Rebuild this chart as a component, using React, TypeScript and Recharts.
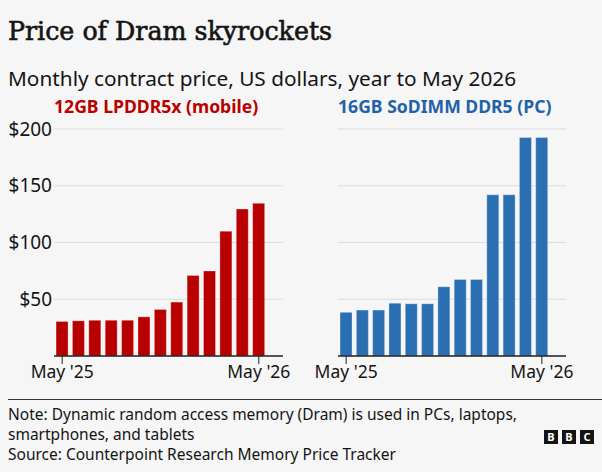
import React from "react";
import { BarChart, Bar, XAxis, YAxis, CartesianGrid } from "recharts";

const months = [
  "May '25", "Jun '25", "Jul '25", "Aug '25", "Sep '25", "Oct '25", "Nov '25",
  "Dec '25", "Jan '26", "Feb '26", "Mar '26", "Apr '26", "May '26",
];
const mobilePrice = [30.5, 31, 31.5, 31.5, 31.5, 34.5, 41, 47.5, 71, 75, 110, 129.5, 134.5];
const pcPrice = [38.5, 40.5, 40.5, 46.5, 46, 46, 61, 67.5, 67.5, 142, 142, 192.5, 192.5];
const yTicks = [0, 50, 100, 150, 200];

const mobileData = months.map((m, i) => ({ month: m, price: mobilePrice[i] }));
const pcData = months.map((m, i) => ({ month: m, price: pcPrice[i] }));

const SANS = "'Noto Sans', sans-serif";
const INK = "#141414";
const RED = "#b80000";
const BLUE = "#2b6fb3";

function Panel({ data, color, showY, margin }: { data: any[]; color: string; showY: boolean; margin: any }) {
  return (
    <BarChart width={showY ? 300 : 302} height={290} data={data} margin={margin} barCategoryGap="12.5%">
      <CartesianGrid vertical={false} stroke="#dcdcdc" />
      <XAxis
        dataKey="month"
        interval={11}
        padding={{ left: 0, right: 16 }}
        height={44}
        axisLine={{ stroke: "#222", strokeWidth: 1.5 }}
        tickLine={{ stroke: "#222" }}
        tickSize={8}
        tick={{ fill: INK, fontSize: 17.5, fontFamily: SANS }}
      />
      <YAxis
        hide={!showY}
        domain={[0, 200]}
        ticks={yTicks}
        width={54}
        axisLine={false}
        tickLine={false}
        tickSize={0}
        tickMargin={2}
        tickFormatter={(v: number) => (v === 0 ? "" : `$${v}`)}
        tick={{ fill: INK, fontSize: 19, fontFamily: SANS }}
      />
      <Bar dataKey="price" fill={color} stroke="#ffffff" strokeOpacity={0.3} strokeWidth={1} isAnimationActive={false} />
    </BarChart>
  );
}

export default function App() {
  return (
    <div style={{ position: "absolute", left: 0, top: 0, width: 602, height: 472, background: "#f6f6f6", fontFamily: SANS, color: INK, overflow: "hidden" }}>
      <div style={{ position: "absolute", left: 8, top: 16, fontFamily: "'DejaVu Serif', serif", fontSize: 25.3, lineHeight: "32px", fontWeight: 500, whiteSpace: "nowrap", WebkitTextStroke: "0.6px #141414" }}>
        Price of Dram skyrockets
      </div>
      <div style={{ position: "absolute", left: 8, top: 64, fontSize: 20.8, lineHeight: "28px", whiteSpace: "nowrap" }}>
        Monthly contract price, US dollars, year to May 2026
      </div>

      <div style={{ position: "absolute", left: 54, top: 94, fontSize: 17.6, lineHeight: "24px", fontWeight: 700, color: RED, whiteSpace: "nowrap" }}>
        12GB LPDDR5x (mobile)
      </div>
      <div style={{ position: "absolute", left: 338, top: 94, fontSize: 17.6, lineHeight: "24px", fontWeight: 700, color: "#1f62a8", whiteSpace: "nowrap" }}>
        16GB SoDIMM DDR5 (PC)
      </div>

      <div style={{ position: "absolute", left: 0, top: 110 }}>
        <Panel data={mobileData} color={RED} showY={true} margin={{ top: 19, right: 17, bottom: 0, left: 0 }} />
      </div>
      <div style={{ position: "absolute", left: 300, top: 110 }}>
        <Panel data={pcData} color={BLUE} showY={false} margin={{ top: 19, right: 36, bottom: 0, left: 38 }} />
      </div>

      <div style={{ position: "absolute", left: 8, right: 0, top: 399, borderTop: "1px solid #333" }} />
      <div style={{ position: "absolute", left: 8, top: 404, width: 540, fontSize: 15.5, lineHeight: "20px" }}>
        <div>Note: Dynamic random access memory (Dram) is used in PCs, laptops, smartphones, and tablets</div>
        <div>Source: Counterpoint Research Memory Price Tracker</div>
      </div>
      <div style={{ position: "absolute", left: 544, top: 430, display: "flex", gap: 4 }}>
        {["B", "B", "C"].map((l, i) => (
          <div key={i} style={{ width: 14, height: 14, background: "#141414", color: "#fff", fontSize: 11, fontWeight: 700, lineHeight: "14px", textAlign: "center" }}>
            {l}
          </div>
        ))}
      </div>
    </div>
  );
}
